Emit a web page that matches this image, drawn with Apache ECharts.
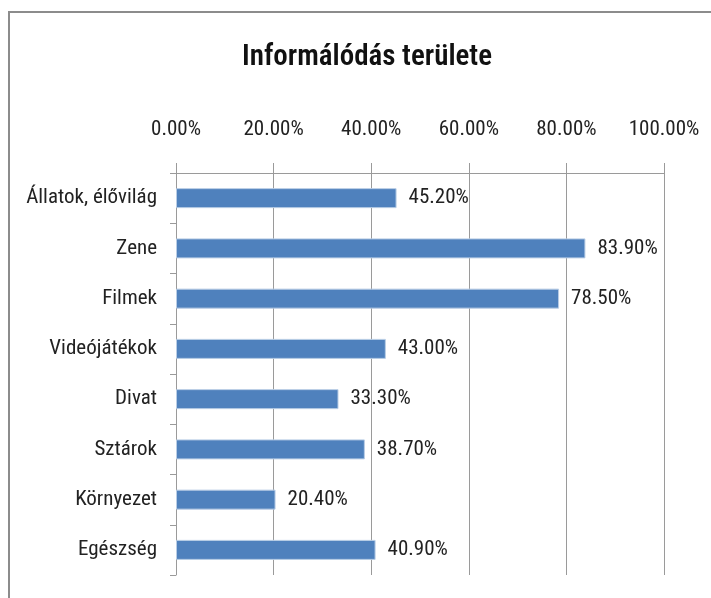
<!DOCTYPE html>
<html>
<head>
<meta charset="utf-8">
<script src="https://cdn.jsdelivr.net/npm/echarts@6/dist/echarts.min.js"></script>
<style>
html, body { margin: 0; padding: 0; background: #fff; }
#chart { width: 711px; height: 598px; }
</style>
</head>
<body>
<div id="chart"></div>
<script>
const FONT = '"Roboto Condensed", "Liberation Sans", sans-serif';

const kategoriak = ["Állatok, élővilág", "Zene", "Filmek", "Videójátékok", "Divat", "Sztárok", "Környezet", "Egészség"];
const ertekek = [45.2, 83.9, 78.5, 43.0, 33.3, 38.7, 20.4, 40.9];

const chart = echarts.init(document.getElementById("chart"));

const option = {
	animation: false,
	backgroundColor: "#fff",
	textStyle: { fontFamily: FONT },
	title: {
		text: "Informálódás területe",
		left: 362,
		textAlign: "center",
		top: 38,
		textStyle: {
			fontFamily: FONT,
			fontSize: 29,
			fontWeight: 600,
			color: "#111"
		}
	},
	graphic: [{
		type: "polyline",
		shape: { points: [[9, 598], [9, 12], [711, 12]] },
		style: { stroke: "#8c8c8c", lineWidth: 2, fill: null },
		silent: true
	}],
	grid: {
		left: 176,
		right: 47,
		top: 173,
		bottom: 23
	},
	xAxis: {
		type: "value",
		position: "top",
		min: 0,
		max: 100,
		interval: 20,
		axisLine: { show: true, lineStyle: { color: "#9a9a9a", width: 1 } },
		axisTick: { show: true, length: 10, lineStyle: { color: "#9a9a9a" } },
		splitLine: { show: true, lineStyle: { color: "#9a9a9a", width: 1 } },
		axisLabel: {
			margin: 33,
			fontSize: 21,
			color: "#222",
			fontFamily: FONT,
			formatter: v => v.toFixed(2) + "%"
		}
	},
	yAxis: {
		type: "category",
		inverse: true,
		data: kategoriak,
		axisLine: { show: true, lineStyle: { color: "#9a9a9a" } },
		axisTick: { show: true, length: 6, lineStyle: { color: "#9a9a9a" } },
		axisLabel: {
			margin: 19,
			fontSize: 21,
			color: "#222",
			fontFamily: FONT
		}
	},
	series: [{
		type: "bar",
		data: ertekek,
		barWidth: 20,
		itemStyle: {
			color: "#4f81bd",
			borderColor: "#b9cde5",
			borderWidth: 1
		},
		label: {
			show: true,
			position: "right",
			distance: 12,
			fontSize: 21,
			color: "#222",
			fontFamily: FONT,
			formatter: p => p.value.toFixed(2) + "%"
		}
	}]
};

chart.setOption(option);
window.onresize = chart.resize;
</script>
</body>
</html>
